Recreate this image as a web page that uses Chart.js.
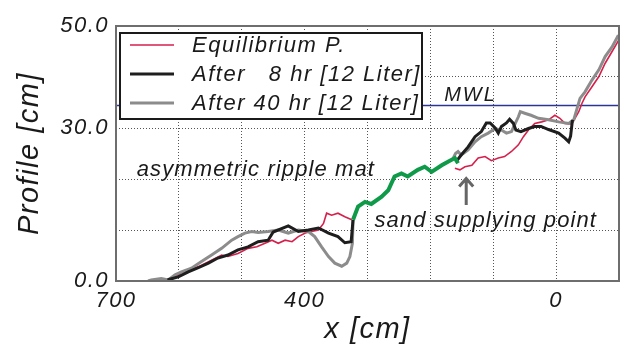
<!DOCTYPE html>
<html>
<head>
<meta charset="utf-8">
<title>Profile</title>
<script src="https://cdn.jsdelivr.net/npm/chart.js@4.4.1/dist/chart.umd.min.js"></script>
<style>
  html, body { margin: 0; padding: 0; background: #fff; }
  #wrap { width: 628px; height: 353px; }
</style>
</head>
<body>
<div id="wrap"><canvas id="profileChart"></canvas></div>
<script>
// Perfiles (x en cm, perfil en cm); null = tramo oculto bajo la zona de ripples
const eqX = [614, 606, 596, 580, 564, 548, 532, 522, 506, 490, 476, 463, 452, 442, 431, 420, 410, 399, 389, 378, 370, 365, 357, 347, 336, 325,
  240,
  161, 153, 145, 134, 124, 113, 103, 92, 82, 71, 60, 52, 44, 34, 23, 12, 2, -6, -14, -25, -36, -41, -46, -57, -68, -78, -89, -100];
const eqY = [0, 0.8, 1.7, 2.2, 3.1, 4.1, 5.1, 4.8, 5.4, 6.4, 6.7, 7.4, 8.0, 7.4, 8.0, 7.7, 8.7, 9.4, 9.7, 10.0, 11.3, 13.3, 12.9, 13.3, 12.6, 12.0,
  null,
  22.1, 21.8, 22.4, 22.7, 24.1, 24.4, 23.6, 24.1, 24.4, 25.4, 26.7, 28.3, 29.6, 30.9, 31.2, 31.6, 32.5, 31.9, 30.9, 30.8, 33.2, 34.8, 36.1, 38.1, 40.1, 42.7, 45.0, 47.3];

const h8X = [617, 616, 601, 585, 569, 553, 538, 522, 506, 490, 474, 458, 450, 426, 410, 394, 378, 362, 347, 336, 326, 323,
  240,
  159, 151, 140, 129, 119, 111, 105, 97, 92, 87, 79, 74, 68, 64, 56, 44, 34, 24, 12, -4, -14, -20, -23, -26];
const h8Y = [0, 0.3, 0.8, 1.8, 2.6, 3.5, 4.5, 5.1, 6.1, 6.7, 7.7, 8.0, 9.6, 10.8, 9.7, 10.0, 10.4, 9.4, 8.7, 7.5, 7.7, 12.0,
  null,
  23.4, 24.7, 26.3, 28.3, 29.3, 31.0, 31.0, 30.0, 29.0, 30.3, 31.0, 31.7, 30.9, 29.6, 29.3, 29.9, 30.3, 30.3, 29.7, 29.0, 28.0, 27.3, 28.4, 31.6];

const h40X = [649, 644, 628, 617, 606, 596, 580, 564, 548, 532, 516, 506, 495, 484, 474, 458, 442, 426, 410, 394, 384, 373, 362, 352, 341, 333, 328, 324, 323,
  240,
  164, 160, 156, 151, 140, 129, 119, 108, 97, 87, 79, 71, 65, 60, 57, 50, 40, 28, 12, -4, -20, -28, -38, -46, -57, -68, -78, -89, -99];
const h40Y = [0, 0.2, 0.5, 0.2, 1.2, 1.8, 2.5, 3.8, 5.1, 6.4, 8.0, 8.7, 9.4, 9.7, 9.5, 9.7, 10.0, 9.4, 10.0, 9.7, 8.7, 6.7, 4.8, 3.5, 2.9, 3.5, 4.8, 7.4, 12.0,
  null,
  24.0, 25.0, 25.4, 24.7, 25.7, 27.3, 28.3, 29.0, 29.9, 29.6, 29.0, 29.3, 30.9, 32.2, 33.2, 32.9, 32.5, 31.9, 31.6, 31.2, 30.9, 31.6, 35.8, 37.1, 39.4, 41.4, 44.0, 45.9, 48.2];

// tramo comun "asymmetric ripple mat"
const rippleX = [323, 315, 304, 294, 278, 267, 257, 246, 236, 220, 209, 198, 182, 172, 161, 156];
const rippleY = [12.0, 14.6, 15.5, 15.1, 16.5, 17.8, 20.5, 21.1, 20.5, 21.8, 22.4, 21.4, 22.7, 23.4, 24.1, 23.1];

const mwlLevel = 34.4;
const xTickLabels = [700, 400, 0];
const yTickLabels = [0, 30, 50];
const seriesNames = ['Equilibrium P.', 'After   8 hr [12 Liter]', 'After 40 hr [12 Liter]'];

// anotaciones en coordenadas de datos
const notes = [
  { text: 'asymmetric ripple mat', x: 667, y: 20.6 },
  { text: 'sand supplying point', x: 289, y: 10.6 },
  { text: 'MWL', x: 178, y: 35.2 }
];
const arrowAt = { x: 143, from: 14.9, to: 20.3 };

function toPoints(xs, ys) {
  return xs.map((x, i) => ({ x: x, y: ys[i] }));
}

const FONT = '"Liberation Sans", Arial, Helvetica, sans-serif';

const textSpacing = {
  id: 'textSpacing',
  beforeDraw(chart) {
    chart.ctx.letterSpacing = '1.5px';
  }
};

const overlay = {
  id: 'overlay',
  afterDatasetsDraw(chart) {
    const ctx = chart.ctx;
    const a = chart.chartArea;
    const sx = chart.scales.x, sy = chart.scales.y;
    ctx.save();

    // leyenda
    const x0 = a.left + 4, y0 = a.top + 7, w = 302, h = 86;
    ctx.fillStyle = '#fff';
    ctx.fillRect(x0, y0, w, h);
    ctx.strokeStyle = '#1a1a1a';
    ctx.lineWidth = 2;
    ctx.strokeRect(x0, y0, w, h);
    ctx.font = 'italic 22px ' + FONT;
    ctx.letterSpacing = '1.5px';
    ctx.textBaseline = 'middle';
    ctx.textAlign = 'left';
    chart.data.datasets.filter(d => d.inLegend).forEach((ds, i) => {
      const ly = y0 + 12 + i * 29;
      ctx.strokeStyle = ds.borderColor;
      ctx.lineWidth = ds.borderWidth;
      ctx.beginPath();
      ctx.moveTo(x0 + 10, ly);
      ctx.lineTo(x0 + 54, ly);
      ctx.stroke();
      ctx.fillStyle = '#1a1a1a';
      ctx.fillText(ds.label, x0 + 72, ly + 1);
    });

    // textos
    ctx.textBaseline = 'alphabetic';
    ctx.letterSpacing = '1.1px';
    notes.forEach(n => {
      ctx.font = (n.text === 'MWL' ? 'italic 20px ' : 'italic 22px ') + FONT;
      ctx.letterSpacing = n.text === 'MWL' ? '2px' : '1.1px';
      ctx.fillText(n.text, sx.getPixelForValue(n.x), sy.getPixelForValue(n.y));
    });

    // flecha
    const ax = sx.getPixelForValue(arrowAt.x);
    const ay0 = sy.getPixelForValue(arrowAt.from);
    const ay1 = sy.getPixelForValue(arrowAt.to);
    ctx.strokeStyle = '#666';
    ctx.lineWidth = 3;
    ctx.beginPath();
    ctx.moveTo(ax, ay0);
    ctx.lineTo(ax, ay1 + 2);
    ctx.moveTo(ax - 7, ay1 + 9);
    ctx.lineTo(ax, ay1 + 1);
    ctx.lineTo(ax + 7, ay1 + 9);
    ctx.stroke();

    ctx.restore();
  },
  afterDraw(chart) {
    const ctx = chart.ctx;
    const a = chart.chartArea;
    ctx.save();
    ctx.strokeStyle = '#6e6e6e';
    ctx.lineWidth = 2;
    ctx.strokeRect(a.left, a.top, a.right - a.left, a.bottom - a.top);
    ctx.restore();
  }
};

const lineDefaults = { pointRadius: 0, tension: 0, fill: false, spanGaps: false };

new Chart(document.getElementById('profileChart'), {
  type: 'line',
  data: {
    datasets: [
      { ...lineDefaults, label: seriesNames[0], inLegend: true, data: toPoints(eqX, eqY), borderColor: '#d5204c', borderWidth: 1.6, order: 3 },
      { ...lineDefaults, label: seriesNames[1], inLegend: true, data: toPoints(h8X, h8Y), borderColor: '#1e1e1e', borderWidth: 3, order: 1 },
      { ...lineDefaults, label: seriesNames[2], inLegend: true, data: toPoints(h40X, h40Y), borderColor: '#8c8c8c', borderWidth: 3, order: 2 },
      { ...lineDefaults, label: 'ripple mat', data: toPoints(rippleX, rippleY), borderColor: '#0f9a49', borderWidth: 4, order: 0 },
      { ...lineDefaults, label: 'MWL', data: [{ x: 700, y: mwlLevel }, { x: -100, y: mwlLevel }], borderColor: '#2a3594', borderWidth: 1.5, order: 4 }
    ]
  },
  options: {
    responsive: true,
    maintainAspectRatio: false,
    animation: false,
    layout: { padding: { left: 0, top: 26, right: 8, bottom: 0 } },
    plugins: {
      legend: { display: false },
      tooltip: { enabled: false }
    },
    scales: {
      x: {
        type: 'linear',
        reverse: true,
        min: -100,
        max: 700,
        afterFit: s => { s.height = 72; },
        grid: { color: '#555', lineWidth: 1, drawTicks: false, borderDash: [1, 2] },
        border: { display: false, dash: [1, 2] },
        ticks: {
          stepSize: 100,
          autoSkip: false,
          maxRotation: 0,
          padding: 9,
          color: '#1a1a1a',
          font: { family: FONT, size: 22, style: 'italic', lineHeight: 1 },
          callback: v => xTickLabels.includes(v) ? String(v) : ''
        },
        title: {
          display: true,
          text: 'x [cm]',
          color: '#1a1a1a',
          font: { family: FONT, size: 29, style: 'italic', lineHeight: 1 },
          padding: { top: 0, bottom: 9 }
        }
      },
      y: {
        type: 'linear',
        min: 0,
        max: 50,
        afterFit: s => { s.width = 116; },
        grid: { color: '#555', lineWidth: 1, drawTicks: false, borderDash: [1, 2] },
        border: { display: false, dash: [1, 2] },
        ticks: {
          stepSize: 10,
          padding: 7,
          color: '#1a1a1a',
          font: { family: FONT, size: 22, style: 'italic', lineHeight: 1 },
          callback: v => yTickLabels.includes(v) ? v.toFixed(1) : ''
        },
        title: {
          display: true,
          text: 'Profile [cm]',
          color: '#1a1a1a',
          font: { family: FONT, size: 29, style: 'italic', lineHeight: 1 },
          padding: { top: 15, bottom: 0 }
        }
      }
    }
  },
  plugins: [textSpacing, overlay]
});
</script>
</body>
</html>
